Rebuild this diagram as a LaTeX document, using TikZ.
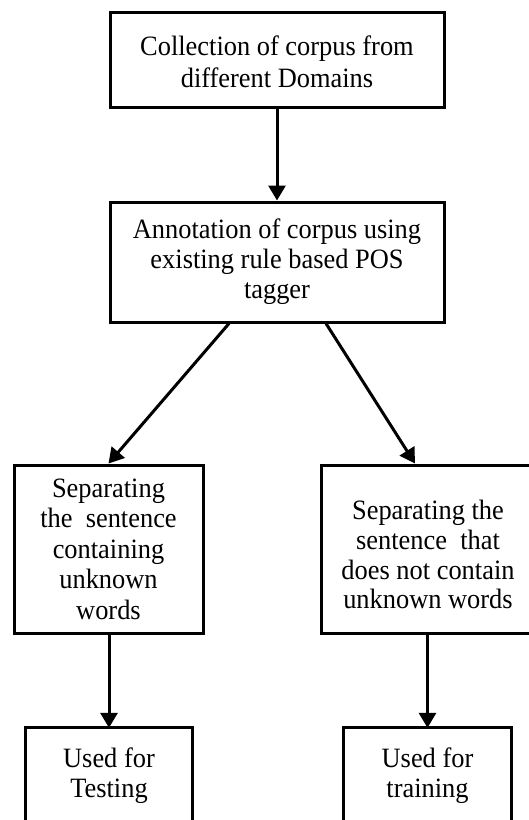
\documentclass[tikz,border=0pt]{standalone}
\usepackage{fontspec}
\setmainfont[FakeStretch=0.943]{Liberation Serif}
\usetikzlibrary{arrows.meta}
\begin{document}
\begin{tikzpicture}[x=1pt,y=-1pt,
  box/.style={draw, line width=3pt, rectangle, align=center, inner sep=0pt},
  openbox/.style={rectangle, align=center, inner sep=0pt},
  arr/.style={line width=3pt, -{Triangle[width=17pt,length=15pt]}},
  edge/.style={line width=3pt}]
\clip (0,0) rectangle (529,820);
\fill[white] (0,0) rectangle (529,820);

\node[box, minimum width=334pt, minimum height=95pt,
  font=\fontsize{28}{32}\selectfont] (n1) at (277,59.5)
  {\rule{0pt}{24pt}Collection of corpus from\\different Domains};
\node[box, minimum width=334pt, minimum height=120pt,
  font=\fontsize{28}{30}\selectfont] (n2) at (277,262)
  {Annotation of corpus using\\existing rule based POS\\tagger};
\node[box, minimum width=189pt, minimum height=168pt,
  font=\fontsize{28}{30.5}\selectfont] (n3l) at (108.5,549)
  {Separating\\the\ \ sentence\\containing\\unknown\\words};
\node[box, minimum width=214pt, minimum height=168pt,
  font=\fontsize{28}{29.7}\selectfont] (n3r) at (428,549)
  {\rule{0pt}{31pt}Separating the\\sentence\ \ that\\does not contain\\unknown words};
\node[openbox, minimum width=166pt, minimum height=96pt,
  font=\fontsize{28}{30}\selectfont] (n4l) at (109,776)
  {Used for\\Testing};
\node[openbox, minimum width=167pt, minimum height=96pt,
  font=\fontsize{28}{30}\selectfont] (n4r) at (427.5,776)
  {Used for\\training};

\draw[edge] ([yshift=-30pt]n4l.south west) -- (n4l.north west) -- (n4l.north east) -- ([yshift=-30pt]n4l.south east);
\draw[edge] ([yshift=-30pt]n4r.south west) -- (n4r.north west) -- (n4r.north east) -- ([yshift=-30pt]n4r.south east);

\draw[arr] (n1.south) -- (n2.north);
\draw[arr] ([xshift=-48pt]n2.south) -- (n3l.north);
\draw[arr] ([xshift=49pt]n2.south) -- ([xshift=-13pt]n3r.north);
\draw[arr] (n4l.north |- n3l.south) -- (n4l.north);
\draw[arr] (n4r.north |- n3r.south) -- (n4r.north);
\end{tikzpicture}
\end{document}
